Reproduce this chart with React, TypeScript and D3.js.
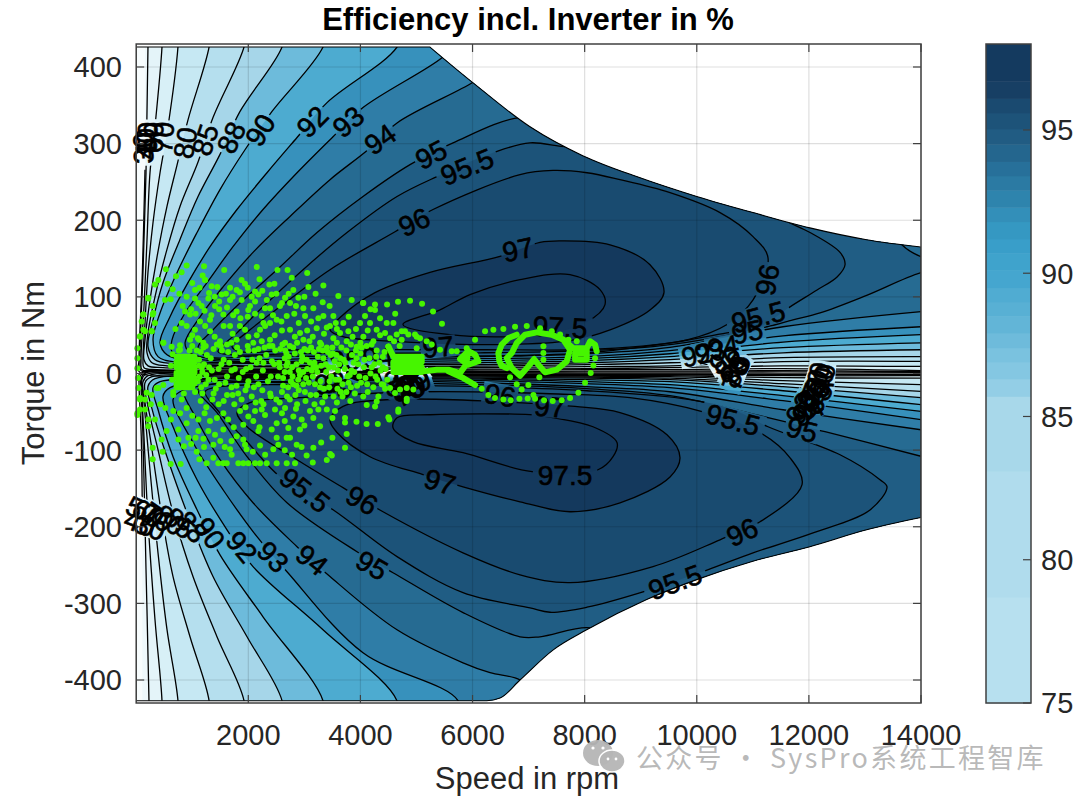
import React from "react";
import * as d3 from "d3";

type P = [number, number];

const xTicks = [2000, 4000, 6000, 8000, 10000, 12000, 14000];
const yTicks = [-400, -300, -200, -100, 0, 100, 200, 300, 400];
const cbTicks = [75, 80, 85, 90, 95];

const envelopeFlat: P[] = [[0,426],[5240,426]];
const envelopeTop: P[] = [[5240,426],[6015,379],[7025,322],[7975,284],[8925,257],[9998,231],[11000,210],[12017,190],[13030,174.6],[14000,165]];
const envelopeBottom: P[] = [[14000,-188],[13030,-204],[12017,-226],[11000,-245],[9998,-269],[9106,-295],[8036,-334.5],[7440,-360.6],[6846,-400],[6490,-423.6],[6252,-427],[0,-427]];

const levelNames = [40,50,60,70,80,85,88,90,92,93,94,95,95.5,96,97,97.5];
const levelColors = ["#eef8fb","#e4f4f9","#d8f0f7","#c6e8f3","#b5dfee","#a6d6e9","#6dbbdb","#4dabd0","#3791bc","#2f7da7","#266b92","#205d84","#1c5379","#194b70","#14395d","#12365a"];
const baseColor = "#f7fcfd";

const u40: P[] = [[157,266],[110,132],[50,18],[60,1.8],[2030,1.5],[3993,1.5],[6133,1.5],[8042,1.8],[9523,1.8],[11539,2],[14000,1.5]];
const u50: P[] = [[230,462],[210,426],[175,262],[121,132],[68,18],[86,3.7],[246,2.3],[2030,2.3],[3993,2.3],[6133,2.3],[8042,3],[9523,3],[11539,3.7],[14000,2.3]];
const u60: P[] = [[470,462],[460,426],[335,322],[246,262],[193,175],[139,87],[86,18],[103,5],[300,3.7],[2030,3.7],[3993,3.7],[6133,4.3],[8042,5],[9523,5],[11539,6.3],[14000,3.7]];
const u70: P[] = [[760,462],[745,426],[567,322],[425,262],[300,197],[210,132],[157,66],[121,18],[139,7.6],[371,5],[2030,5],[3993,5],[6133,5.6],[8042,6.3],[9523,7.6],[11539,10],[14000,9.2]];
const u80: P[] = [[1340,462],[1300,426],[924,331],[728,272],[549,218],[371,152],[246,96],[157,44],[139,18],[210,10],[478,7.6],[2030,6.9],[3993,6.9],[6133,7.6],[8042,8.9],[9523,10],[11539,15.4],[14000,15.7]];
const u85: P[] = [[1990,462],[1923,426],[1370,334],[1103,276],[781,218],[549,162],[335,100],[210,53],[193,27],[282,14],[549,10],[2030,8.9],[3993,8.9],[6133,9.5],[8042,11.5],[9523,14],[11539,20.6],[14000,22]];
const u88: P[] = [[2680,462],[2601,426],[1852,342],[1495,286],[1103,231],[781,175],[478,118.5],[300,70],[210,35],[335,18],[657,12.8],[2030,10],[3993,11.5],[6133,11.5],[8042,14],[9523,18],[11539,27],[14000,31]];
const u90: P[] = [[3430,462],[3332,426],[2423,342],[1941,292],[1495,240],[1085,184],[728,131.6],[425,79],[300,44],[389,22],[781,14],[2030,12.8],[3993,12.8],[6133,14],[8042,16.7],[9523,22],[11539,33.7],[14000,40]];
const u92: P[] = [[4800,462],[4652,426],[3404,353.5],[2869,308],[2333,262],[1798,214],[1317,165.5],[924,118.5],[603,74],[425,40],[549,24.5],[906,16.7],[2030,14],[3993,15.4],[6133,16.7],[8042,19.3],[9523,25.8],[11539,41],[14000,50.7]];
const u93: P[] = [[5775,436],[5455,412],[4046,347],[3511,309],[2869,262],[2262,214],[1727,165.5],[1263,118.5],[871,79],[639,44],[639,28.5],[1013,19.3],[2030,15.4],[3993,18],[6133,19.3],[8042,22],[9523,29.8],[11539,49],[14000,61]];
const u94: P[] = [[6312,397],[6008,380],[4653,327],[4135,292],[3457,253],[2744,205],[2084,158],[1549,113],[1138,74],[871,40],[960,27],[1317,19.3],[2030,18],[3993,20.6],[6133,22],[8042,25.8],[9523,34],[11539,61],[14000,80.7]];
const u95: P[] = [[7560,325],[6847,334],[5652,301],[4885,272.6],[4046,231],[3226,184],[2565,139],[1852,92],[1370,57],[1103,34],[1263,22],[2209,23],[3815,22],[6133,23],[8042,27],[9523,40],[10540,53],[11253,61],[11717,70],[12199,79],[13020,101.6],[14000,131.6],[14696,142],[14000,152.5],[13660,168],[13447,194]];
const u955: P[] = [[7739,296],[7025,301],[6365,288],[5366,257],[4653,231],[3761,184],[2976,135.5],[2262,87],[1798,53],[1459,28.5],[1673,24.5],[2922,26],[6133,27],[8042,29.8],[9220,35],[10415,48],[11129,61],[11664,87],[12146,109],[12503,126],[12645,142],[12556,158],[12021,184],[11539,201],[10058,266],[8274,305]];
const u96: P[] = [[11271,151],[11004,178.6],[10415,210],[9523,236],[8631,253],[8042,262],[7435,265],[6847,259.5],[5295,214],[4617,185],[3457,135.5],[2565,87],[2030,57],[1709,35],[1852,28.5],[2922,31],[6133,31],[8274,32],[9826,44],[10540,64],[11004,96]];
const u97: P[] = [[7203,171],[6490,153],[5241,132],[4260,105.5],[3636,73],[3457,57],[3689,48],[4706,41.5],[6133,37.6],[7739,43],[8453,57],[9166,83],[9415,105.5],[9166,142],[8453,168],[7561,173]];
const u975: P[] = [[4759,64],[5419,83],[5955,103],[6847,122.5],[7739,129],[8274,109.4],[8363,90],[8042,67.6],[7203,50.7],[5598,50.7]];

const l40: P[] = [[110,-190],[90,-82],[50,-12],[60,-0.5],[2030,-0.5],[6133,-0.5],[9523,-0.6],[14000,-0.8]];
const l50: P[] = [[228,-465],[228,-427],[175,-256],[121,-82.5],[86,-17],[86,-1.6],[2030,-0.9],[3993,-0.9],[6133,-0.9],[8042,-0.9],[9523,-1],[11539,-1.6],[14000,-1.6]];
const l60: P[] = [[460,-465],[460,-427],[335,-321],[210,-191],[139,-82.5],[103,-21],[121,-1.6],[2030,-1.6],[3993,-1.6],[6133,-1.6],[8042,-1.6],[9523,-1.6],[11539,-2.9],[14000,-2.9]];
const l70: P[] = [[745,-465],[745,-427],[549,-334],[389,-234],[246,-126],[139,-38],[103,-8],[157,-1.6],[2030,-2.2],[3993,-2.2],[6133,-2.2],[8042,-2.9],[9523,-2.9],[11539,-5.5],[14000,-6]];
const l80: P[] = [[1300,-465],[1300,-427],[960,-343.6],[657,-265],[460,-187],[282,-99.5],[157,-38],[121,-10.7],[210,-2.9],[2030,-2.9],[3993,-2.9],[6133,-2.9],[8042,-3.5],[9523,-4.2],[11539,-9.4],[14000,-14.6]];
const l85: P[] = [[1923,-465],[1923,-427],[1441,-343.6],[1013,-265],[657,-181.7],[389,-99.5],[210,-43],[157,-12],[282,-4.2],[2030,-4.2],[3993,-3.5],[6133,-3.5],[8042,-4.8],[9523,-6.1],[11539,-13.3],[14000,-23.4]];
const l88: P[] = [[2601,-465],[2601,-427],[1977,-343.6],[1370,-265],[906,-181.7],[549,-108.6],[300,-51],[210,-17],[335,-6.8],[2030,-5.5],[3993,-4.2],[6133,-4.8],[8042,-6.1],[9523,-8.1],[11539,-17.2],[14000,-31.6]];
const l90: P[] = [[3332,-465],[3332,-427],[2262,-317.5],[1495,-236.7],[1085,-177.8],[657,-108.6],[389,-47],[300,-18.5],[425,-10.7],[2030,-6.1],[3993,-5.5],[6133,-6.1],[8042,-8.1],[9523,-10.7],[11539,-22.5],[14000,-40.7]];
const l92: P[] = [[4652,-465],[4652,-427],[3332,-334.5],[2084,-252],[1620,-204],[1085,-138.6],[657,-69.5],[478,-30],[603,-18.5],[2030,-7.4],[3993,-6.8],[6133,-7.4],[8042,-10.7],[9523,-14.6],[11539,-29],[14000,-49.5]];
const l93: P[] = [[5740,-465],[5740,-427],[4046,-364.5],[2690,-258.7],[2155,-213],[1549,-151.7],[1013,-90],[657,-34],[781,-23.8],[2030,-8.7],[3993,-8.1],[6133,-9.4],[8042,-13.3],[9523,-18.5],[11539,-35.5],[14000,-60.3]];
const l94: P[] = [[7203,-426],[6847,-400],[6312,-390.5],[5830,-377.6],[4653,-334.5],[3457,-265],[2869,-226],[2084,-168.7],[1495,-112.5],[1085,-60.3],[835,-21],[960,-10.7],[2030,-10.7],[3993,-9.4],[6133,-12],[8042,-17.2],[9523,-23.8],[11539,-47.3],[14000,-73.4]];
const l95: P[] = [[8453,-347.5],[8096,-332],[7203,-343.6],[6847,-343.6],[5830,-312],[4581,-260],[3939,-232.6],[2690,-168.7],[1977,-108.6],[1441,-51],[1103,-21],[1406,-13.3],[2922,-12],[6133,-14.6],[8042,-19.8],[9523,-29],[11271,-57.7],[12288,-76],[14000,-108]];
const l955: P[] = [[2565,-134.7],[1977,-89],[1441,-47],[1227,-23.8],[1495,-17.2],[2922,-14.6],[6133,-17.2],[8042,-22.5],[9879,-34],[10647,-47.3],[11271,-69.5],[12556,-106],[13269,-138.6],[13394,-148],[13091,-178],[12075,-208],[11004,-234],[10183,-256.5],[9041,-285],[8042,-305],[7382,-311.6],[7025,-306],[5830,-286],[4653,-239],[3511,-177.8]];
const l96: P[] = [[1798,-51],[2030,-38],[2922,-31.6],[5063,-23.8],[7382,-26.4],[8810,-31.6],[10112,-50],[11129,-77],[11664,-110],[11878,-145],[11129,-193.5],[10415,-217],[9220,-252],[7739,-273],[6847,-262.7],[5830,-234],[4403,-180.4],[3689,-149],[2869,-112.5],[1977,-69.5]];
const l97: P[] = [[3457,-60.3],[3689,-43],[4528,-34],[7828,-43],[8631,-51],[9469,-80],[9701,-110],[9523,-135],[8631,-168.7],[7739,-180.4],[6847,-167.4],[5830,-147.8],[5116,-132],[4171,-108.6],[3582,-77]];
const l975: P[] = [[4581,-70.8],[4653,-57.7],[5241,-53.8],[7025,-53.8],[7435,-57.7],[8149,-69.5],[8577,-90],[8506,-108.6],[8238,-125.6],[7061,-128],[5830,-103.4],[4938,-89]];

const upperContours = [u40,u50,u60,u70,u80,u85,u88,u90,u92,u93,u94,u95,u955,u96,u97,u975];
const lowerContours = [l40,l50,l60,l70,l80,l85,l88,l90,l92,l93,l94,l95,l955,l96,l97,l975];
const closedFromLevel = 95.5;

const labelTexts = ["90","92","93","94","95","95.5","96","97","88","85","80","70","60","50","40","30",
 "96","95.5","95","94","93","92","90","88","85","80","70",
 "60","50","70","40","80","85","88","90","92","93","94","95","95.5",
 "96","95.5","97.5","97","96","95.5","95","94","93","92","90","88","85","80","70","60","50","40","30",
 "97.5","97","96","97",
 "94","95","93","92","90","88","85","80","70","92","90"];
const labelSpeeds = [2208,3138,3780,4349,5259,5901,4956,6811,1691,1227,871,478,300,193,157,121,
 11253,11094,10897,10468,10236,10004,10504,10593,10682,10682,10682,
 12214,12157,12100,12270,12039,12157,12021,12100,11842,11950,11985,11878,10647,
 10808,9611,7650,5420,4028,3011,4207,3138,2442,1888,1316,995,781,603,389,210,103,68,246,
 7561,5384,6490,7382,
 4313,3725,4706,4795,4884,4920,4706,4974,4850,3457,3600];
const labelTorques = [318,329,329,306,286,270,198,162,308,305,301,308,308,308,300,294,
 122.5,74,54.5,35,28.5,24.5,18,11.5,7.6,2.3,-1.6,
 -12,-5.5,-14.6,-8,-25,-32,-38,-28,-45,-41,-50,-73,-60,
 -206.5,-272,-132,-141,-165,-152,-250,-243,-239,-226,-208,-200,-195,-191,-187,-182,-178,-195,-200,
 61,35,-28,-43,
 22,18,-5.5,-14.6,-18.5,-8,-16,-13,-24,-12,-16];
const labelAngles = [-58,-45,-40,-35,-27,-22,-25,-12,-65,-72,-80,-85,-88,-88,-90,-92,
 -80,-15,-12,-10,-12,-12,-30,-40,-50,-60,-70,
 -75,-80,-70,-85,-60,-60,-60,-55,-60,-65,-30,15,15,
 -25,-20,0,17,30,38,30,38,45,50,55,50,45,40,35,30,25,20,20,
 3,-5,10,5,
 -5,0,-20,-30,-10,-40,-60,-20,-30,-10,20];

const scatter: P[] = [
[900,141],[1210,140],[530,136],[1570,135],[2520,135],[2700,135],[2150,139],[3050,131],[710,127],[810,132],[395,122],[335,116],[1185,128],[2200,123],[2375,116],[2465,117],[2775,125],[1880,122],[1940,117],[1230,122],
[560,117],[514,96],[615,97],[770,104],[216,98],[294,88],[294,77],[127,77],[98,68],[335,66],[127,57],[276,55],[68,48],[1049,109],[1227,122],[1346,114],[1447,113],[1525,103],[1049,98],[1109,92],[1287,98],[830,88],[871,81],[1168,88],[1406,88],[1674,112],[1792,109],[1674,96],[1881,96],[2120,107],[2179,103],[2417,103],[2030,88],[2120,94],[2655,99],[2803,109],[2893,99],[3071,113],[3339,115],[3606,101],[3327,93],[2982,85],[3160,85],[3517,75],[3844,96],[4052,92],[3339,75],[2744,92],[2298,85],[2387,85],[2565,88],[2685,75],[3012,75],[2506,70],[2239,75],[2000,83],[1792,81],[1555,77],[1317,70],[1138,68],[960,77],[811,66],[1049,57],[1317,55],[1674,62],[1941,57],[2209,57],[2387,66],[2744,57],[2922,53],[3220,59],[3457,62],[3695,66],[4082,75],[4171,66],[4290,57],[4469,66],[4439,53],[3993,66],[4052,48],[3636,53],[3785,55],[4795,55],[4647,51],[4528,46],[4736,44],[5004,48],[5004,33],[484,40],[782,37],[960,44],[1198,40],[1495,42],[1792,44],[2090,40],[2387,44],[2655,40],[2982,44],[3280,40],[3517,46],[3755,42],[3934,35],[4231,42],[4498,35],
[4045,92],[4260,90],[4260,83],[4475,90],[4670,93.5],[4885,95],[5100,91],[5295,81],[5455,65],
[1257,-117],[1465,-117],[1555,-117],[1615,-117],[1822,-117],[1911,-117],[2000,-117],[2120,-117],[2209,-117],[2328,-117],[2506,-117],[2685,-117],[2833,-117],[3460,-105],[3150,-116],[3400,-113],[3490,-107],[3725,-97],[3040,-107],[3160,-97],[3755,-79],[3725,-64],[3725,-58],[3930,-63],[4110,-66],[4310,-66],[4515,-60],[4675,-50],[4825,-36],
[294,-97],[294,-112],[472,-102],[615,-118],[793,-118],[1127,-112],[1080,-102],[1210,-96],[1376,-93],[1674,-99],[1703,-106],[1376,-110],[1941,-93],[1970,-99],[2209,-94],[2446,-99],[2535,-93],[2863,-93],[2506,-84],[2685,-84],[2417,-73],[2179,-75],[1911,-86],[1792,-82],[1555,-73],[1406,-80],[1287,-75],[1109,-75],[930,-84],[752,-86],[543,-75],[752,-73],[454,-86],[216,-69],[335,-60],[216,-60],[157,-47],[20,-54],[68,-34],[186,-25],[365,-19],[662,-28],[811,-34],[662,-49],[782,-52],[900,-65],[1109,-60],[1316,-62],[1555,-52],[1852,-49],[1911,-67],[2120,-49],[2239,-47],[2090,-62],[2298,-54],[2476,-47],[2655,-45],[2803,-56],[2952,-60],[2922,-73],[2714,-71],[3100,-49],[3250,-47],[3400,-47],[3547,-49],[3280,-69],[2744,-84],[2506,-65],
[1150,28],[1210,12],[1290,-8],[1330,20],[1420,-20],[1470,6],[1530,30],[1590,-12],[1660,14],[1720,-28],[1760,24],[1830,-6],[1900,18],[1950,-22],[2040,8],[2110,30],[2180,-14],[2260,4],[2320,24],[2390,-26],[2460,12],[2530,-4],[2570,32],[2650,20],[2710,-18],[2780,8],[2830,26],[2890,-8],[2950,16],[3010,-24],[3060,30],[3130,4],[3190,-14],[3240,22],[3300,10],[3370,-30],[3420,28],[3480,-4],[3540,16],[3590,-20],[3660,34],[3720,6],[3790,-12],[3850,24],[3900,-26],[3960,12],[4020,34],[4090,-6],[4160,20],[4230,-18],[4290,30],[4360,4],
[2660,30],[2700,14],[2740,2],[2760,-10],[2800,34],[2860,12],[2900,-22],[2940,28],[2980,2],[3040,18],[3080,-12],[3120,34],[3160,8],[3210,-28],[3260,32],[3290,-10],[3340,20],[3390,2],[3440,-18],[3500,34],[3520,8],[3570,24],[3620,-8],[3680,-30],[3700,18],[3750,30],[3810,-2],[3880,14],[3940,-16],[4000,26],[4060,8],[4130,-24],[4200,38],[4250,12],[4320,-30],[4400,22],[1000,36],[1080,30],[1180,-26],[1240,36],[1360,-34],[1440,38],[1560,-36],[1620,38],[1700,-18],[1800,34],[1880,-34],[1990,36],[2060,-30],[2150,14],[2230,-36],[2290,34],[2350,-10],[2430,36],[2500,-34],[2600,-24],
[20,33],[20,20],[20,7],[30,-6],[38,-19],[68,-32],[157,-34],[276,-28],[395,-19],[484,-15],[68,48.5],[157,55],[276,55],[127,77],[305,79],[216,99],[484,40],[632,35],[781,31],[20,-52],[68,-47],
[4588,66],[4736,55],[4855,51],[4974,51],[5063,46],[5182,42],[5272,38],[5420,31],[5628,29],[5718,29],[5896,33],[6045,44],[6223,55],[6372,57],[6550,58],[6758,61],[6967,62],[7204,59],[7413,55],[7561,51],[7710,44],[7859,42],
[6164,-20],[6283,-28],[6401,-32],[6550,-34],[6681,-35],[6836,-33],[6984,-32.5],[7115,-33],[7276,-35],[7430,-36],[7591,-35],[7740,-32],[7888,-25],[8007,-12],[8108,0.6],[8156,10.6],[8186,20],[6669,-5],[6877,-21],[6996,-15],[7192,-5],[6788,-14],[7086,-28],
[4409,-14.6],[4528,-19],[4617,-25.5],[4707,-21],[4826,-19],[4945,-21],[4826,-33],[4677,-47],[4499,-57],[4261,-43],[4112,-41],[4290,-36.4],
[7264,35.4],[7264,26.7],[7264,18]
];

const scatterExtra: P[] = [
[1000,118],[1130,112],[1300,105],[1400,100],[1480,94],[1600,104],[1720,100],[1850,106],[1990,112],[2060,100],[2250,108],[2330,96],[2500,104],[2600,92],[2720,104],[2850,88],[3000,100],[3200,104],[3450,88],[3250,72],
[650,110],[900,100],[980,84],[1060,78],[1220,82],[1340,76],[1480,84],[1620,86],[1730,76],[1860,72],[1990,74],[2120,78],[2270,66],[2440,76],[2590,68],[2820,78],[2900,66],[3120,68],[3400,60],[3560,66],[3790,74],[3920,58],[4180,84],[4350,72],[4620,78],
[700,58],[900,62],[1000,50],[1100,46],[1230,62],[1400,48],[1560,62],[1720,52],[1850,62],[2000,48],[2150,50],[2300,62],[2470,50],[2600,56],[2830,48],[3050,56],[3150,48],[3350,52],[3580,58],[3860,48],[4000,40],[4130,56],[4350,50],[4600,42],[4700,36],
[1120,44],[1200,34],[1260,24],[1380,32],[1510,36],[1640,28],[1700,40],[1850,28],[2000,30],[2180,32],[2240,42],[2370,36],[2480,30],[2610,38],[2680,26],[2740,36],[2870,40],[3000,32],[3090,42],[3170,28],[3300,38],[3400,34],[3470,24],[3580,40],[3640,20],[3830,38],[3920,30],[4110,36],[4280,22],[4430,28],
[1120,10],[1130,-4],[1180,2],[1240,-14],[1350,4],[1400,-8],[1520,12],[1620,-4],[1760,6],[1790,-16],[1960,6],[2000,-10],[2070,18],[2100,-18],[2250,-22],[2270,14],[2400,-4],[2420,16],[2560,8],[2620,-6],[2650,2],[2690,-30],[2800,-14],[2840,-28],[2920,-2],[2980,-14],[3050,6],[3110,-28],[3180,14],[3230,2],[3350,-20],[3440,8],[3520,-30],[3600,4],[3680,-14],[3750,-24],[3840,4],[3980,-4],[4050,-30],[4180,0],[4300,-8],[4440,-20],[4400,8],
[1150,-36],[1250,-44],[1380,-26],[1470,-40],[1620,-28],[1750,-40],[1820,-26],[1950,-44],[2130,-38],[2270,-40],[2400,-30],[2560,-38],[2740,-34],[2870,-40],[3020,-36],[3180,-40],[3320,-38],[3580,-38],[3820,-36],
[900,-45],[1000,-55],[1220,-52],[1440,-58],[1640,-60],[1740,-70],[2000,-56],[2200,-70],[2600,-52],[2650,-62],[2850,-46],[3000,-68],[3160,-58],[3500,-58],
[850,-95],[980,-92],[1060,-84],[1200,-85],[1500,-88],[1580,-96],[1700,-88],[2080,-102],[2300,-106],[2650,-100],[2780,-106],[2950,-96],[3300,-90],[3500,-84],[620,-60],[520,-45],[430,-40],[260,-40],
[650,25],[620,10],[640,-8],[660,-24],[760,30],[850,-26],[950,30],[1050,-24],[1120,18],[1100,-10],[1160,-18],[1170,8],
[2550,14],[2620,-16],[2680,10],[2720,22],[2790,-4],[2860,-16],[2900,4],[2960,22],[3030,-6],[3100,14],[3150,-4],[3210,8],[3280,-18],[3330,30],[3380,12],[3450,-10],[3510,26],[3560,-8],[3620,12],[3650,-24],[3730,14],[3770,-4],[3830,-18],[3890,2],[3930,20],[4010,-12],[4070,18],[4120,-14],[4200,8],[4270,-4],[4340,14],[4380,-14],[4450,6],[4480,-8],[1900,2],[1980,-16],[2140,-4],[2200,20],[1700,4],[1560,18],[1480,-14],[1300,8],[1250,-2]
];

const traceBlobLeft: P[] = [[720,22],[1040,22],[1040,15],[720,15],[720,8],[1040,8],[1040,1],[720,1],[720,-6],[1040,-6],[1040,-13],[720,-13],[720,-18],[1000,-18]];
const traceBlobMid: P[] = [[4498,35.4],[4588,22],[5093,22],[5093,15],[4588,15],[4588,8],[5093,8],[5093,2],[4588,2],[5123,2.8],[5361,5],[5569,5],[5777,0.6],[5884,11.5],[5926,29],[6045,24.5],[6104,16],[5926,11.5],[5777,19],[5926,29]];
const traceTail: P[] = [[5569,3],[5836,-6],[6045,-15]];
const traceGoggle: P[] = [[6699,26.7],[6788,39.8],[6937,50.6],[7145,53.7],[7413,50.6],[7621,44],[7740,31],[7680,15.8],[7502,5],[7294,1.5],[7175,11.5],[7097,18.9],[6996,9.3],[6848,-2.9],[6699,7.1],[6610,20.2],[6699,26.7]];
const traceRing: P[] = [[6520,10.2],[6479,15.8],[6461,26.7],[6520,37.6],[6639,46.3],[6788,50.6]];
const traceRingLow: P[] = [[6610,7.1],[6520,10.2]];
const traceBlobRight: P[] = [[7621,44],[7799,33],[8037,33],[8037,18],[7829,18],[7829,26],[8037,26],[8037,33],[8097,42],[8186,37.6],[8215,29]];
const traces = [traceBlobLeft, traceBlobMid, traceTail, traceGoggle, traceRing, traceRingLow, traceBlobRight];

const cbEdges = [78.7,83.1,85.7,86.3,86.9,87.4,87.9,88.5,89,89.5,90.1,90.7,91.2,91.8,92.3,92.9,93.4,93.9,94.5,95.04,95.6,96.1,96.7];
const cbColors = ["#b7e0ef","#b0dced","#a8d8ea","#93cee6","#84c7e2","#7ac2df","#6ebbdb","#62b5d7","#58b0d4","#50acd2","#45a6cf","#3fa3cc","#399ec9","#3598c2","#338fb9","#2e84ad","#2b7aa3","#27709a","#24668e","#215c83","#1d5379","#1a4a70","#173f64","#143a5f"];

const title = "Efficiency incl. Inverter in %";
const xTitle = "Speed in rpm";
const yTitle = "Torque in Nm";
const watermark = "公众号 · SysPro系统工程智库";

const FONT = "'Liberation Sans', Arial, sans-serif";
const AXC = "#404040";
const TXT = "#262626";
const GREEN = "#46f500";

export default function App() {
  const L = 136.2, R = 921, T = 44, B = 703;
  const x = d3.scaleLinear([0, 14000], [L, R]);
  const y = d3.scaleLinear([-430, 430], [B, T]);
  const c = d3.scaleLinear([75, 98], [B, T]);
  const px = (p: P) => x(p[0]);
  const py = (p: P) => y(p[1]);
  const open = d3.line<P>().x(px).y(py).curve(d3.curveCatmullRom.alpha(0.5));
  const closed = d3.line<P>().x(px).y(py).curve(d3.curveCatmullRomClosed.alpha(0.5));
  const envFlat = d3.line<P>().x(px).y(py)(envelopeFlat)!;
  const envTop = d3.line<P>().x(px).y(py).curve(d3.curveCatmullRom.alpha(0.5))(envelopeTop)!;
  const envBot = d3.line<P>().x(px).y(py).curve(d3.curveMonotoneX)(envelopeBottom)!;
  const envPath = envFlat + "L" + envTop.slice(1) + "L" + envBot.slice(1) + "Z";
  const trace = d3.line<P>().x(px).y(py).curve(d3.curveLinear);

  const contourPaths = (list: P[][], sign: number) =>
    list.map((pts, i) => {
      const lvl = levelNames[i];
      if (lvl >= closedFromLevel) {
        const d = closed(pts)!;
        return { lvl, fill: d, line: d, color: levelColors[i] };
      }
      const first = pts[0], last = pts[pts.length - 1];
      const line = open(pts)!;
      const fill = line + `L${x(15000)},${y(last[1])}L${x(15000)},${y(sign * 500)}L${x(first[0])},${y(sign * 500)}Z`;
      return { lvl, fill, line, color: levelColors[i] };
    });
  const upper = contourPaths(upperContours, 1);
  const lower = contourPaths(lowerContours, -1);
  const both = upper.flatMap((u, i) => [u, lower[i]]);

  const bands = cbColors.map((col, i) => ({
    col,
    lo: i === 0 ? 75 : cbEdges[i - 1],
    hi: i === cbColors.length - 1 ? 98 : cbEdges[i],
  }));

  const labels = labelTexts.map((t, i) => ({ t, s: labelSpeeds[i], q: labelTorques[i], a: labelAngles[i] }));
  const LS = 28;
  const gridLines = (
    <>
      {xTicks.map(t => <line key={t} x1={x(t)} x2={x(t)} y1={T} y2={B} />)}
      {yTicks.map(t => <line key={t} x1={L} x2={R} y1={y(t)} y2={y(t)} />)}
    </>
  );

  return (
    <svg width={1080} height={801} style={{ position: "absolute", left: 0, top: 0, background: "#fff" }} fontFamily={FONT}>
      <defs>
        <clipPath id="env"><path d={envPath} /></clipPath>
        <clipPath id="axes"><rect x={L} y={T} width={R - L} height={B - T} /></clipPath>
        <mask id="gaps" maskUnits="userSpaceOnUse" x={0} y={0} width={1080} height={801}>
          <rect x={0} y={0} width={1080} height={801} fill="#fff" />
          {labels.map((l, i) => {
            const w = l.t.length * LS * 0.52 + 6;
            return <rect key={i} x={-w / 2} y={-11} width={w} height={22} fill="#000"
              transform={`translate(${x(l.s)},${y(l.q)}) rotate(${l.a})`} />;
          })}
        </mask>
      </defs>

      <g stroke="#000" strokeOpacity={0.13} strokeWidth={1.2}>{gridLines}</g>

      <g clipPath="url(#axes)">
        <g clipPath="url(#env)">
          <path d={envPath} fill={baseColor} />
          {both.map((b, i) => <path key={i} d={b.fill} fill={b.color} />)}
          <g mask="url(#gaps)" fill="none" stroke="#000" strokeWidth={1.3}>
            {both.map((b, i) => <path key={i} d={b.line} />)}
          </g>
          <g stroke="#000" strokeOpacity={0.13} strokeWidth={1.2}>{gridLines}</g>
        </g>
        <path d={envPath} fill="none" stroke="#000" strokeWidth={1.1} />
      </g>

      <g fontSize={LS} fill="#000" stroke="#000" strokeWidth={0.6} textAnchor="middle">
        {labels.map((l, i) => (
          <text key={i} transform={`translate(${x(l.s)},${y(l.q)}) rotate(${l.a})`} dy="0.36em">{l.t}</text>
        ))}
      </g>

      <g clipPath="url(#axes)">
        <g fill="none" stroke={GREEN} strokeWidth={6} strokeLinejoin="round" strokeLinecap="round">
          {traces.map((t, i) => <path key={i} d={trace(t)!} />)}
        </g>
      </g>
      <g fill={GREEN}>
        {scatter.concat(scatterExtra).map((p, i) => <circle key={i} cx={x(p[0])} cy={y(p[1])} r={3} />)}
      </g>

      <rect x={L} y={T} width={R - L} height={B - T} fill="none" stroke={AXC} strokeWidth={1.5} />
      <g stroke={AXC} strokeWidth={1.2}>
        {xTicks.map(t => <g key={t}>
          <line x1={x(t)} x2={x(t)} y1={B} y2={B - 8} />
          <line x1={x(t)} x2={x(t)} y1={T} y2={T + 8} />
        </g>)}
        {yTicks.map(t => <g key={t}>
          <line x1={L} x2={L + 8} y1={y(t)} y2={y(t)} />
          <line x1={R} x2={R - 8} y1={y(t)} y2={y(t)} />
        </g>)}
      </g>
      <g fontSize={29} fill={TXT}>
        {xTicks.map(t => <text key={t} x={x(t)} y={745} textAnchor="middle">{t}</text>)}
        {yTicks.map(t => <text key={t} x={122} y={y(t)} dy="0.36em" textAnchor="end">{t}</text>)}
        <text x={527} y={789} fontSize={31} textAnchor="middle">{xTitle}</text>
        <text transform={`translate(44,373) rotate(-90)`} fontSize={31} textAnchor="middle">{yTitle}</text>
      </g>
      <text x={528} y={30} textAnchor="middle" fontSize={31} fontWeight="bold" fill="#000">{title}</text>

      <g>
        {bands.map((b, i) => (
          <rect key={i} x={986} width={45} y={c(b.hi)} height={c(b.lo) - c(b.hi) + 0.5} fill={b.col} />
        ))}
        <rect x={986} y={T} width={45} height={B - T} fill="none" stroke={AXC} strokeWidth={1.5} />
        {cbTicks.map(t => <line key={t} x1={1031} x2={1023} y1={c(t)} y2={c(t)} stroke={AXC} strokeWidth={1.2} />)}
        {cbTicks.map(t => <text key={t} x={1041} y={c(t)} dy="0.36em" fontSize={29} fill={TXT}>{t}</text>)}
      </g>

      <g fill="#b5b5b5" fillOpacity={0.95}>
        <ellipse cx={598} cy={753} rx={15} ry={13} />
        <ellipse cx={612} cy={761} rx={13} ry={11} stroke="#fff" strokeWidth={1.5} />
      </g>
      <g fill="#fff">
        <circle cx={593} cy={748} r={1.6} /><circle cx={603} cy={748} r={1.6} />
        <circle cx={608} cy={759} r={1.4} /><circle cx={616} cy={759} r={1.4} />
      </g>
      <text x={636} y={768} fontSize={27} letterSpacing={2.3} fill="#b5b5b5" fillOpacity={0.95} fontFamily="'Noto Sans CJK SC', sans-serif">{watermark}</text>
    </svg>
  );
}
